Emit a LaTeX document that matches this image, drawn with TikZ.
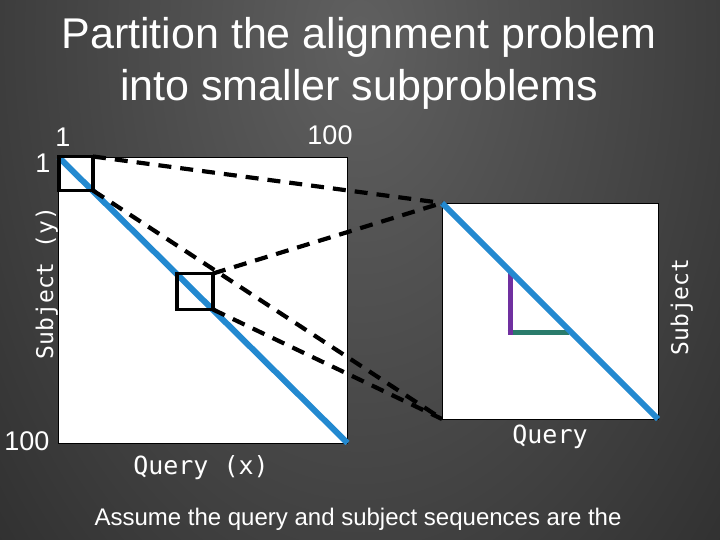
\documentclass[tikz,border=0pt]{standalone}
\usepackage{fontspec}
\setmainfont{Liberation Sans}
\setmonofont{DejaVu Sans Mono}
\usepackage{xcolor}
\usetikzlibrary{positioning}

\definecolor{fundo}{HTML}{222222}
\definecolor{fundoclaro}{HTML}{606060}
\definecolor{azul}{HTML}{2389D0}
\definecolor{roxo}{HTML}{7030A0}
\definecolor{verde}{HTML}{2A7B6B}

\tikzset{
  matriz/.style={draw=black, line width=0.8pt, fill=white, inner sep=0pt, outer sep=0pt},
  bloco/.style={draw=black, line width=3.5pt, inner sep=0pt, outer sep=0pt, minimum size=34pt},
  diag/.style={azul, line width=6pt},
  tracejado/.style={black, line width=4.2pt, dash pattern=on 13pt off 9pt},
  rotulo/.style={text=white, inner sep=0pt, anchor=base},
  numero/.style={rotulo, font=\fontsize{27}{30}\selectfont},
  mono/.style={rotulo, font=\ttfamily\fontsize{#1}{28}\selectfont},
}

\begin{document}
\begin{tikzpicture}[x=1pt,y=-1pt]
  % Fundo
  \useasboundingbox (0,0) rectangle (720,540);
  \fill[fundo] (0,0) rectangle (720,540);
  \begin{scope}
    \clip (0,0) rectangle (720,540);
    \shade[inner color=fundoclaro, outer color=fundo] (360,40) ellipse (640 and 1000);
  \end{scope}

  % Titulo
  \node[rotulo, font=\fontsize{43}{52}\selectfont] (titulo1) at (359,49) {Partition the alignment problem};
  \node[rotulo, font=\fontsize{43}{52}\selectfont] (titulo2) at (359,101) {into smaller subproblems};

  % Matriz grande
  \node[matriz, minimum width=289pt, minimum height=286pt] (grande) at (203,300) {};
  \draw[diag] (grande.north west) -- (grande.south east);
  \node[bloco] (bloco1) at (76,173.5) {};
  \node[bloco, minimum size=36pt] (bloco2) at (195,291.5) {};

  % Matriz ampliada
  \node[matriz, minimum size=216pt] (zoom) at (550,311) {};
  \coordinate (canto) at (510,332);
  \draw[verde, line width=5pt] (507.5,332) -- (569,332);
  \draw[roxo, line width=5pt] (510,270) -- (510,334.5);
  \draw[diag] (zoom.north west) -- (zoom.south east);

  % Linhas tracejadas
  \draw[tracejado] (bloco1.north east) -- (zoom.north west);
  \draw[tracejado] (bloco1.south east) -- (zoom.south west);
  \draw[tracejado] (bloco2.north east) -- (zoom.north west);
  \draw[tracejado] (bloco2.south east) -- (zoom.south west);

  % Rotulos
  \node[numero] (um1) at (63,147) {1};
  \node[numero] (um2) at (43,173) {1};
  \node[numero] (cem1) at (330,145) {100};
  \node[numero] (cem2) at (27,450) {100};
  \node[mono=23, rotate=90] (eixoy) at (53,283) {Subject (y)};
  \node[mono=25] (eixox) at (201,474) {Query (x)};
  \node[mono=25] (query) at (550,443) {Query};
  \node[mono=23, rotate=90] (subject) at (688,307) {Subject};
  \node[rotulo, font=\fontsize{24}{28}\selectfont] (nota) at (358,525) {Assume the query and subject sequences are the};
\end{tikzpicture}
\end{document}
